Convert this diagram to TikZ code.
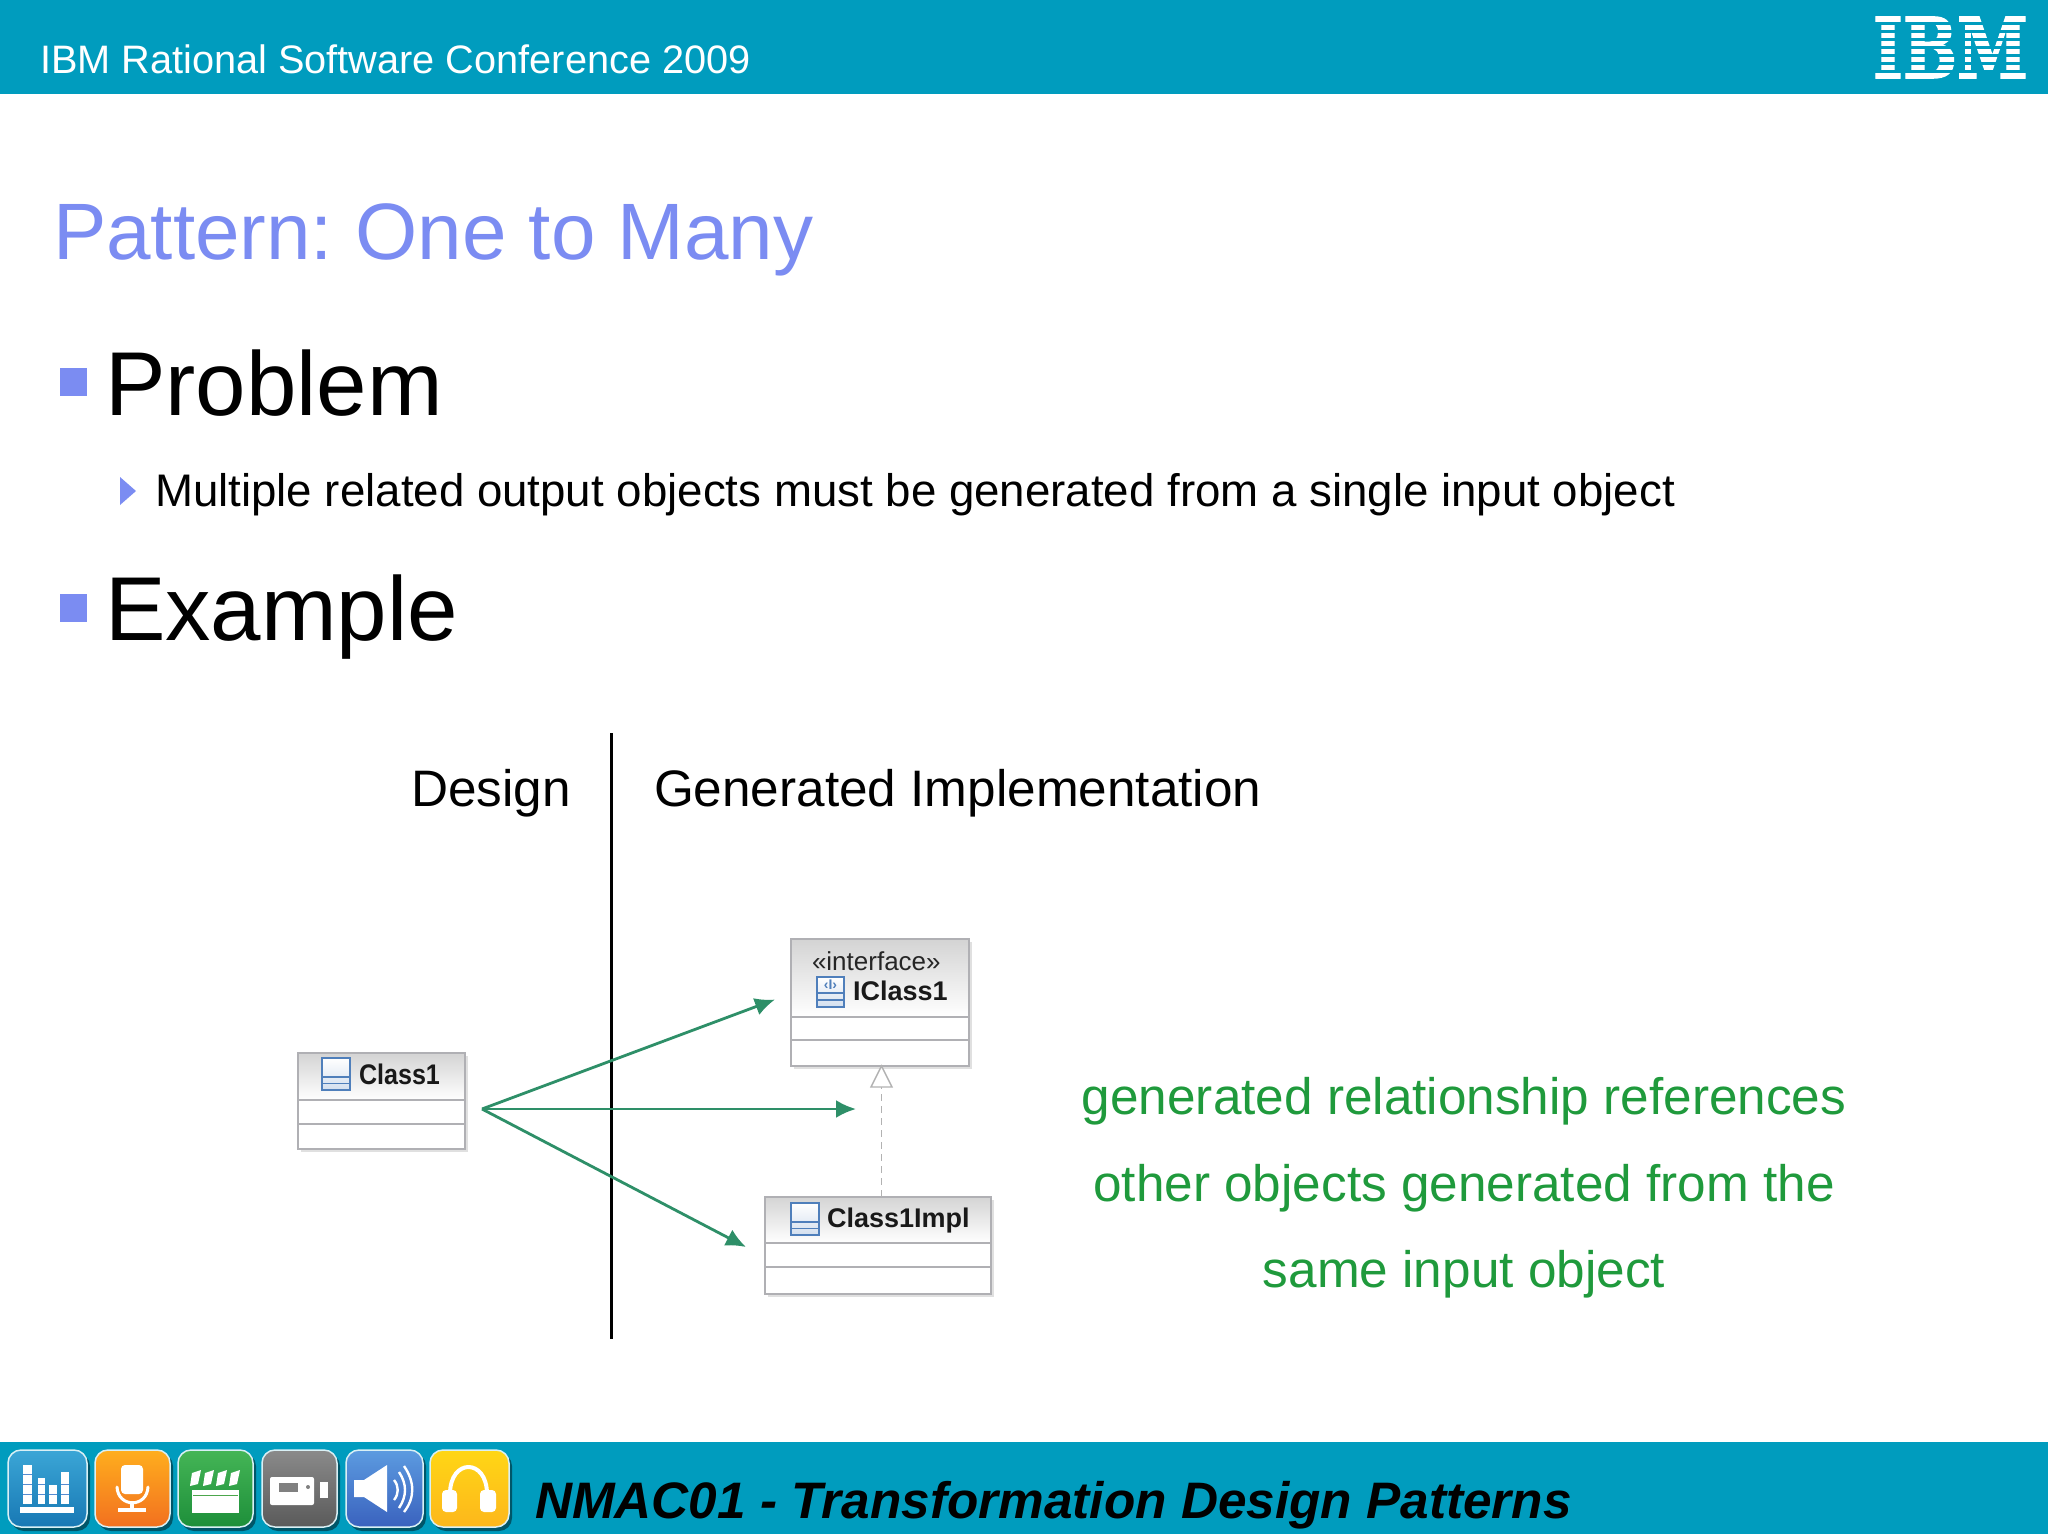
\documentclass[tikz,border=0pt]{standalone}
\usepackage{fontspec}
\usepackage{graphicx}
\setmainfont{Liberation Sans}
\newfontfamily\logofont[BoldFeatures={FakeBold=2}]{DejaVu Serif}
\usetikzlibrary{arrows.meta,calc}
\definecolor{band}{HTML}{009CBE}
\definecolor{titleblue}{HTML}{7B8CF2}
\definecolor{arrowgreen}{HTML}{2E8F68}
\definecolor{notegreen}{HTML}{1F9A3C}
\definecolor{umlgrey}{HTML}{B0B0B4}
\definecolor{umlblue}{HTML}{4F7FBB}
\newcommand{\fs}[1]{\fontsize{#1}{#1}\selectfont}
\newcommand{\umlicon}[2]{%
  \begin{scope}[shift={(#1,#2)}]
    \shade[top color=white,bottom color=umlblue!25] (0,0) rectangle (28,32);
    \draw[umlblue,line width=1.6pt] (0,0) rectangle (28,32);
    \draw[umlblue,line width=1.6pt] (0,19) -- (28,19) (0,25.5) -- (28,25.5);
  \end{scope}}
\newcommand{\umlclass}[7]{% name, cx, cy, w, h, sep1, sep2
  \fill[black!12] ($(#2,#3)+(-#4/2+3,-#5/2+3)$) rectangle ($(#2,#3)+(#4/2+3,#5/2+3)$);
  \node[umlbox,minimum width=#4pt,minimum height=#5pt] (#1) at (#2,#3) {};
  \shade[top color=black!17,bottom color=white] (#1.north west) rectangle (#1.east |- 0,#6);
  \draw[umlgrey,line width=2pt] (#1.north west) rectangle (#1.south east);
  \draw[umlgrey,line width=2pt] (#1.west |- 0,#6) -- (#1.east |- 0,#6) (#1.west |- 0,#7) -- (#1.east |- 0,#7);}
\newcommand{\iconbox}[4]{% x1, x2, top, bottom
  \fill[black!45!band,rounded corners=13pt] (#1+3,1453) rectangle (#2+3,1531);
  \definecolor{icontop}{HTML}{#3}\definecolor{iconbot}{HTML}{#4}
  \shade[icon,top color=icontop,bottom color=iconbot] (#1,1450) rectangle (#2,1527);}
\tikzset{
  txt/.style={anchor=base west,inner sep=0pt,outer sep=0pt},
  umlbox/.style={rectangle,fill=white,inner sep=0pt,outer sep=0pt},
  umlname/.style={txt,font=\bfseries\fs{27},text=black!90},
  rel/.style={draw=arrowgreen,line width=2.8pt,-{Latex[length=20pt,width=18pt]}},
  realize/.style={draw=black!30,line width=1.3pt,dash pattern=on 7pt off 5pt},
  icon/.style={rounded corners=13pt,draw=white!85!band,line width=1.5pt},
  glyphline/.style={draw=white,line width=3pt,line cap=round}
}
\begin{document}
\frenchspacing
\begin{tikzpicture}[x=1pt,y=-1pt]
\useasboundingbox (0,0) rectangle (2048,1534);
\fill[white] (0,0) rectangle (2048,1534);
% bands
\fill[band] (0,0) rectangle (2048,94);
\fill[band] (0,1442) rectangle (2048,1534);
\node[txt,text=white,font=\fs{39.7}] (conf) at (40,73) {IBM Rational Software Conference 2009};
% logo
\node[inner sep=0pt,outer sep=0pt,text=white] (logo) at (1950.5,47.5) {\resizebox{155pt}{61pt}{\logofont\bfseries IBM}};
\foreach \yy in {23.5,31.5,39.5,47.5,55.5,63.5,71.5}
  \draw[band,line width=2.6pt] (1868,\yy) -- (2034,\yy);
% title and bullets
\node[txt,text=titleblue,font=\fs{80}] (title) at (53,259) {Pattern: One to Many};
\fill[titleblue] (60,368) rectangle (87,396);
\node[txt,font=\fs{90.7}] (problem) at (105,415) {Problem};
\fill[titleblue] (120,477) -- (136,491) -- (120,505) -- cycle;
\node[txt,font=\fs{45.65}] (multi) at (155,506) {Multiple related output objects must be generated from a single input object};
\fill[titleblue] (60,594) rectangle (87,622);
\node[txt,font=\fs{90.7}] (example) at (105,640) {Example};
% split
\coordinate (splittop) at (611,733);
\coordinate (splitbot) at (611,1339);
\draw[black,line width=3pt] (splittop) -- (splitbot);
\node[txt,font=\fs{51.3}] (design) at (411,806) {Design};
\node[txt,font=\fs{51.3}] (genimpl) at (654,806) {Generated Implementation};
% UML classes
\umlclass{class1}{381.5}{1101}{167}{96}{1100}{1124}
\umlclass{iface}{880}{1002.5}{178}{127}{1017}{1040}
\umlclass{impl}{878}{1245}{226}{97}{1243}{1267}
\umlicon{322}{1058}
\node[umlname] (class1name) at (359,1084) {\scalebox{0.93}[1.05]{Class1}};
\node[txt,font=\fs{26},text=black!85] (stereo) at (812,970) {«interface»};
\begin{scope}[shift={(817,977)}]
  \shade[top color=white,bottom color=umlblue!25] (0,0) rectangle (27,30);
  \draw[umlblue,line width=1.6pt] (0,0) rectangle (27,30);
  \draw[umlblue,line width=1.6pt] (0,16) -- (27,16) (0,23) -- (27,23);
  \node[font=\bfseries\fs{14},text=umlblue,inner sep=0pt] (ifaceglyph) at (13.5,8) {‹I›};
\end{scope}
\node[umlname] (ifacename) at (853,1000) {IClass1};
\umlicon{791}{1203}
\node[umlname] (implname) at (827,1227) {Class1Impl};
% realization
\coordinate (ifacebot) at ($(iface.south)+(1.5,0)$);
\draw[realize] (impl.north -| ifacebot) -- ($(ifacebot)+(0,20)$);
\draw[draw=black!30,fill=white,line width=1.4pt] (ifacebot) -- ++(-10.5,21) -- ++(21,0) -- cycle;
% generated relationships
\coordinate (src) at (482,1109);
\coordinate (t1) at (775,999.5);
\coordinate (t2) at (856,1109);
\coordinate (t3) at (746,1247);
\draw[rel] (src) -- (t1);
\draw[rel] (src) -- (t2);
\draw[rel] (src) -- (t3);
% note
\node[align=center,inner sep=0pt,text=notegreen,font=\fontsize{51.3}{86.5}\selectfont] (note) at (1464,1188) {generated relationship references\\other objects generated from the\\same input object};
% footer icons
\iconbox{8}{87}{3BA6D6}{1878B4}
\foreach \xa/\xb/\ya in {23/32/1465,37.5/44.5/1478,49/57/1485,61/68.5/1472}{
  \fill[white] (\xa,\ya) rectangle (\xb,1504);
}
\draw[cyan!50!blue!70,line width=1pt] (23,1474) -- (32,1474) (23,1484) -- (32,1484) (23,1494) -- (32,1494) (37.5,1484) -- (44.5,1484) (37.5,1494) -- (44.5,1494) (49,1494) -- (57,1494) (61,1484) -- (68.5,1484) (61,1494) -- (68.5,1494);
\fill[white] (20,1507) rectangle (74,1513);
\iconbox{95}{170}{FFAE1E}{F2701F}
\fill[white,rounded corners=4pt] (121,1465) rectangle (143,1494);
\draw[glyphline] (117,1487) .. controls (118,1508) and (147,1508) .. (148,1487);
\fill[white] (130,1503) rectangle (134,1509);
\fill[white] (118,1508) rectangle (146,1512);
\iconbox{178}{253}{44B556}{1E8F3A}
\fill[white] (192,1490) rectangle (239,1513);
\draw[green!50!black!70,line width=1pt] (193,1495) -- (238,1495);
\foreach \xa in {192,205,218,231}{
  \fill[white] (\xa,1473) -- (\xa+9,1470) -- (\xa+6,1484) -- (\xa-2,1486) -- cycle;
}
\iconbox{262}{337}{8A8A8A}{5A5A5A}
\fill[white,rounded corners=2pt] (270,1477) rectangle (314,1505);
\fill[black!50] (279,1483) rectangle (298,1492);
\fill[black!50] (308,1487) circle (2pt);
\fill[white] (320,1482) rectangle (328,1498);
\iconbox{346}{423}{5C9BE0}{3A62BE}
\fill[white] (354,1480) -- (364,1480) -- (387,1465) -- (387,1512) -- (364,1497) -- (354,1497) -- cycle;
\draw[white,line width=2.4pt] (394,1480) .. controls (399,1486) and (399,1494) .. (394,1500);
\draw[white,line width=2.4pt] (399,1472) .. controls (407,1484) and (407,1496) .. (399,1508);
\draw[white,line width=2.4pt] (404,1466) .. controls (415,1482) and (415,1498) .. (404,1512);
\iconbox{430}{509}{FFD615}{FDB71C}
\draw[white,line width=4pt] (450,1494) .. controls (450,1458) and (487,1458) .. (487,1494);
\fill[white,rounded corners=4pt] (442,1490) rectangle (457,1512);
\fill[white,rounded corners=4pt] (480,1490) rectangle (496,1512);
% footer text
\node[txt,font=\bfseries\itshape\fs{51.3}] (footer) at (535,1518) {NMAC01 - Transformation Design Patterns};
\end{tikzpicture}
\end{document}
